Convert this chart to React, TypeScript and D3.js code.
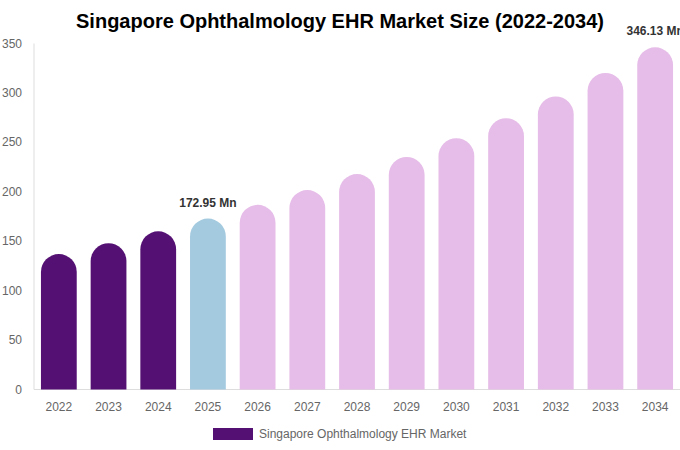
import React from 'react';
import * as d3 from 'd3';

// chart data
const years = ['2022', '2023', '2024', '2025', '2026', '2027', '2028', '2029', '2030', '2031', '2032', '2033', '2034'];
const marketSize = [137, 148, 160, 172.95, 186.8, 201.7, 217.9, 235.3, 254.2, 274.5, 296.5, 320.2, 346.13];
const yTicks = [0, 50, 100, 150, 200, 250, 300, 350];
const labelledYears = ['2025', '2034'];

const W = 680;
const H = 450;
const margin = { top: 43.5, right: 0, bottom: 60.5, left: 34 };

const barColor = (year: string) => {
  const y = +year;
  if (y < 2025) return '#541173';
  if (y === 2025) return '#a4cadf';
  return '#e6bce8';
};

// bar with a fully rounded top
const barPath = (x: number, y: number, w: number, h: number) => {
  const r = Math.min(w / 2, h);
  return `M${x},${y + h} L${x},${y + r} A${r},${r} 0 0 1 ${x + w},${y + r} L${x + w},${y + h} Z`;
};

export default function App() {
  const x = d3.scaleBand<string>()
    .domain(years)
    .range([margin.left, W - margin.right])
    .paddingInner(0.28)
    .paddingOuter(0.14);

  const y = d3.scaleLinear()
    .domain([0, 350])
    .range([H - margin.bottom, margin.top]);

  const font = 'Liberation Sans, Arial, sans-serif';

  return (
    <svg width={W} height={H} style={{ position: 'absolute', left: 0, top: 0, fontFamily: font }}>
      <rect width={W} height={H} fill="#fff" />
      <text x={W / 2} y={28} textAnchor="middle" fontSize={20} fontWeight="bold" fill="#000">
        Singapore Ophthalmology EHR Market Size (2022-2034)
      </text>

      {/* y axis labels */}
      {yTicks.map(t => (
        <text key={t} x={22} y={y(t) + 4} textAnchor="end" fontSize={12} fill="#666">{t}</text>
      ))}

      {/* axis lines */}
      <line x1={margin.left} x2={margin.left} y1={margin.top} y2={y(0)} stroke="#ddd" />
      <line x1={margin.left} x2={W} y1={y(0)} y2={y(0)} stroke="#ddd" />

      {/* bars */}
      {years.map((yr, i) => {
        const bx = x(yr)!;
        const top = y(marketSize[i]);
        return (
          <path key={yr} d={barPath(bx, top, x.bandwidth(), y(0) - top)} fill={barColor(yr)} />
        );
      })}

      {/* value labels */}
      {years.map((yr, i) => labelledYears.includes(yr) ? (
        <text key={'l' + yr} x={x(yr)! + x.bandwidth() / 2} y={y(marketSize[i]) - 12}
          textAnchor="middle" fontSize={12} fontWeight="bold" fill="#333">
          {marketSize[i].toFixed(2)} Mn
        </text>
      ) : null)}

      {/* x axis labels */}
      {years.map(yr => (
        <text key={'x' + yr} x={x(yr)! + x.bandwidth() / 2} y={411} textAnchor="middle" fontSize={12} fill="#666">{yr}</text>
      ))}

      {/* legend */}
      <rect x={213} y={428} width={40} height={12} fill="#541173" />
      <text x={259} y={438} fontSize={12} fill="#666">Singapore Ophthalmology EHR Market</text>
    </svg>
  );
}
